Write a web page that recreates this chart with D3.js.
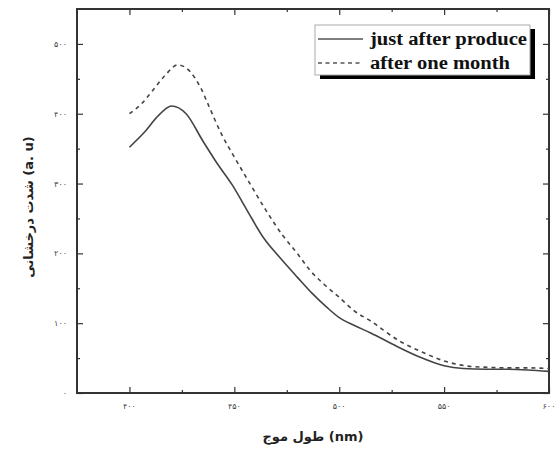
<!DOCTYPE html>
<html>
<head>
<meta charset="utf-8">
<script src="https://cdn.jsdelivr.net/npm/d3@7"></script>
<style>
  body { margin: 0; background: #fff; }
  svg { display: block; }
</style>
</head>
<body>
<svg id="chart"></svg>
<script>
// wavelength (nm) and intensity
const wlFresh = [400, 407, 414, 420, 427, 435, 442, 449, 456, 464, 472, 480, 487, 494, 500, 507, 515, 526, 538, 550, 559, 570, 580, 590, 600];
const fresh   = [352, 373, 398, 411, 400, 361, 328, 298, 262, 222, 193, 166, 143, 123, 108, 97, 86, 69, 52, 39, 35, 34, 34, 33, 31];

const wlMonth = [400, 406, 411, 417, 423, 429, 434, 438, 444, 450, 457, 465, 473, 480, 486, 493, 500, 507, 515, 529, 540, 551, 560, 569, 580, 590, 600];
const month   = [400, 415, 433, 455, 470, 460, 437, 410, 370, 338, 302, 262, 226, 200, 176, 155, 137, 118, 103, 74, 58, 45, 39, 37, 36, 36, 35];

const xTicks = [400, 450, 500, 550, 600];
const xTickLabels = ["۴۰۰", "۴۵۰", "۵۰۰", "۵۵۰", "۶۰۰"];
const yTicks = [0, 100, 200, 300, 400, 500];
const yTickLabels = ["۰", "۱۰۰", "۲۰۰", "۳۰۰", "۴۰۰", "۵۰۰"];
const seriesNames = ["just after produce", "after one month"];

const width = 558, height = 450;
const margin = {left: 77, right: 9, top: 9, bottom: 57};

const svg = d3.select("#chart").attr("width", width).attr("height", height);

const x = d3.scaleLinear().domain([375, 600]).range([margin.left, width - margin.right]);
const y = d3.scaleLinear().domain([0, 550]).range([height - margin.bottom, margin.top]);

const ink = "#333";

// minor + major ticks on all four sides, pointing inward
const minorX = d3.range(425, 600, 50);
const minorY = d3.range(50, 550, 100);

const g = svg.append("g");

function tickSide(axisFn, scale, vals, len, transform) {
    g.append("g")
        .attr("transform", transform)
        .call(axisFn(scale).tickValues(vals).tickSize(len).tickFormat(""))
        .call(a => a.select(".domain").remove())
        .call(a => a.selectAll("line").attr("stroke", ink).attr("stroke-width", 1.2));
}
const bottom = height - margin.bottom, right = width - margin.right;
tickSide(d3.axisTop, x, xTicks, 6, `translate(0,${bottom})`);
tickSide(d3.axisTop, x, minorX, 3, `translate(0,${bottom})`);
tickSide(d3.axisBottom, x, xTicks, 6, `translate(0,${margin.top})`);
tickSide(d3.axisBottom, x, minorX, 3, `translate(0,${margin.top})`);
tickSide(d3.axisRight, y, yTicks, 6, `translate(${margin.left},0)`);
tickSide(d3.axisRight, y, minorY, 3, `translate(${margin.left},0)`);
tickSide(d3.axisLeft, y, yTicks, 6, `translate(${right},0)`);
tickSide(d3.axisLeft, y, minorY, 3, `translate(${right},0)`);

// tick labels
g.selectAll(".xl").data(xTicks).join("text")
    .attr("x", d => x(d)).attr("y", bottom + 16)
    .attr("text-anchor", "middle")
    .attr("font-family", "DejaVu Sans").attr("font-size", 8).attr("fill", "#444")
    .text((d, i) => xTickLabels[i]);

g.selectAll(".yl").data(yTicks).join("text")
    .attr("x", margin.left - 10).attr("y", d => y(d) + 3)
    .attr("text-anchor", "end")
    .attr("font-family", "DejaVu Sans").attr("font-size", 8).attr("fill", "#444")
    .text((d, i) => yTickLabels[i]);

// frame
g.append("rect")
    .attr("x", margin.left).attr("y", margin.top)
    .attr("width", right - margin.left).attr("height", bottom - margin.top)
    .attr("fill", "none").attr("stroke", ink).attr("stroke-width", 2);

// curves
const line = d3.line()
    .x(d => x(d[0])).y(d => y(d[1]))
    .curve(d3.curveMonotoneX);

g.append("path")
    .datum(d3.zip(wlMonth, month))
    .attr("d", line)
    .attr("fill", "none").attr("stroke", "#444").attr("stroke-width", 1.6)
    .attr("stroke-dasharray", "4,4");

g.append("path")
    .datum(d3.zip(wlFresh, fresh))
    .attr("d", line)
    .attr("fill", "none").attr("stroke", "#444").attr("stroke-width", 1.6);

// legend with drop shadow
const lg = svg.append("g");
const lx = 315, ly = 25, lw = 215, lh = 50;
lg.append("rect").attr("x", lx + 5).attr("y", ly + 4).attr("width", lw).attr("height", lh).attr("fill", "#000");
lg.append("rect").attr("x", lx).attr("y", ly).attr("width", lw).attr("height", lh)
    .attr("fill", "#fff").attr("stroke", "#aaa").attr("stroke-width", 1);

const textWidths = [157, 140];
seriesNames.forEach((name, i) => {
    const yy = ly + 14 + i * 24;
    lg.append("line")
        .attr("x1", lx + 3).attr("x2", lx + 48).attr("y1", yy).attr("y2", yy)
        .attr("stroke", "#555").attr("stroke-width", 1.6)
        .attr("stroke-dasharray", i === 1 ? "4,3.5" : null);
    lg.append("text")
        .attr("x", lx + 55).attr("y", yy + 6)
        .attr("font-family", "Liberation Serif").attr("font-weight", "bold")
        .attr("font-size", 18).attr("fill", "#111")
        .attr("textLength", textWidths[i]).attr("lengthAdjust", "spacingAndGlyphs")
        .text(name);
});

// axis titles
svg.append("text")
    .attr("x", x(487.5)).attr("y", 441)
    .attr("text-anchor", "middle")
    .attr("font-family", "DejaVu Sans").attr("font-weight", "bold")
    .attr("font-size", 13).attr("fill", "#222")
    .text("طول موج (nm)");

svg.append("text")
    .attr("transform", "translate(33,207) rotate(-90)")
    .attr("text-anchor", "middle")
    .attr("font-family", "DejaVu Sans").attr("font-weight", "bold")
    .attr("font-size", 13).attr("fill", "#222")
    .text("شدت درخشانی (a. u)");
</script>
</body>
</html>
